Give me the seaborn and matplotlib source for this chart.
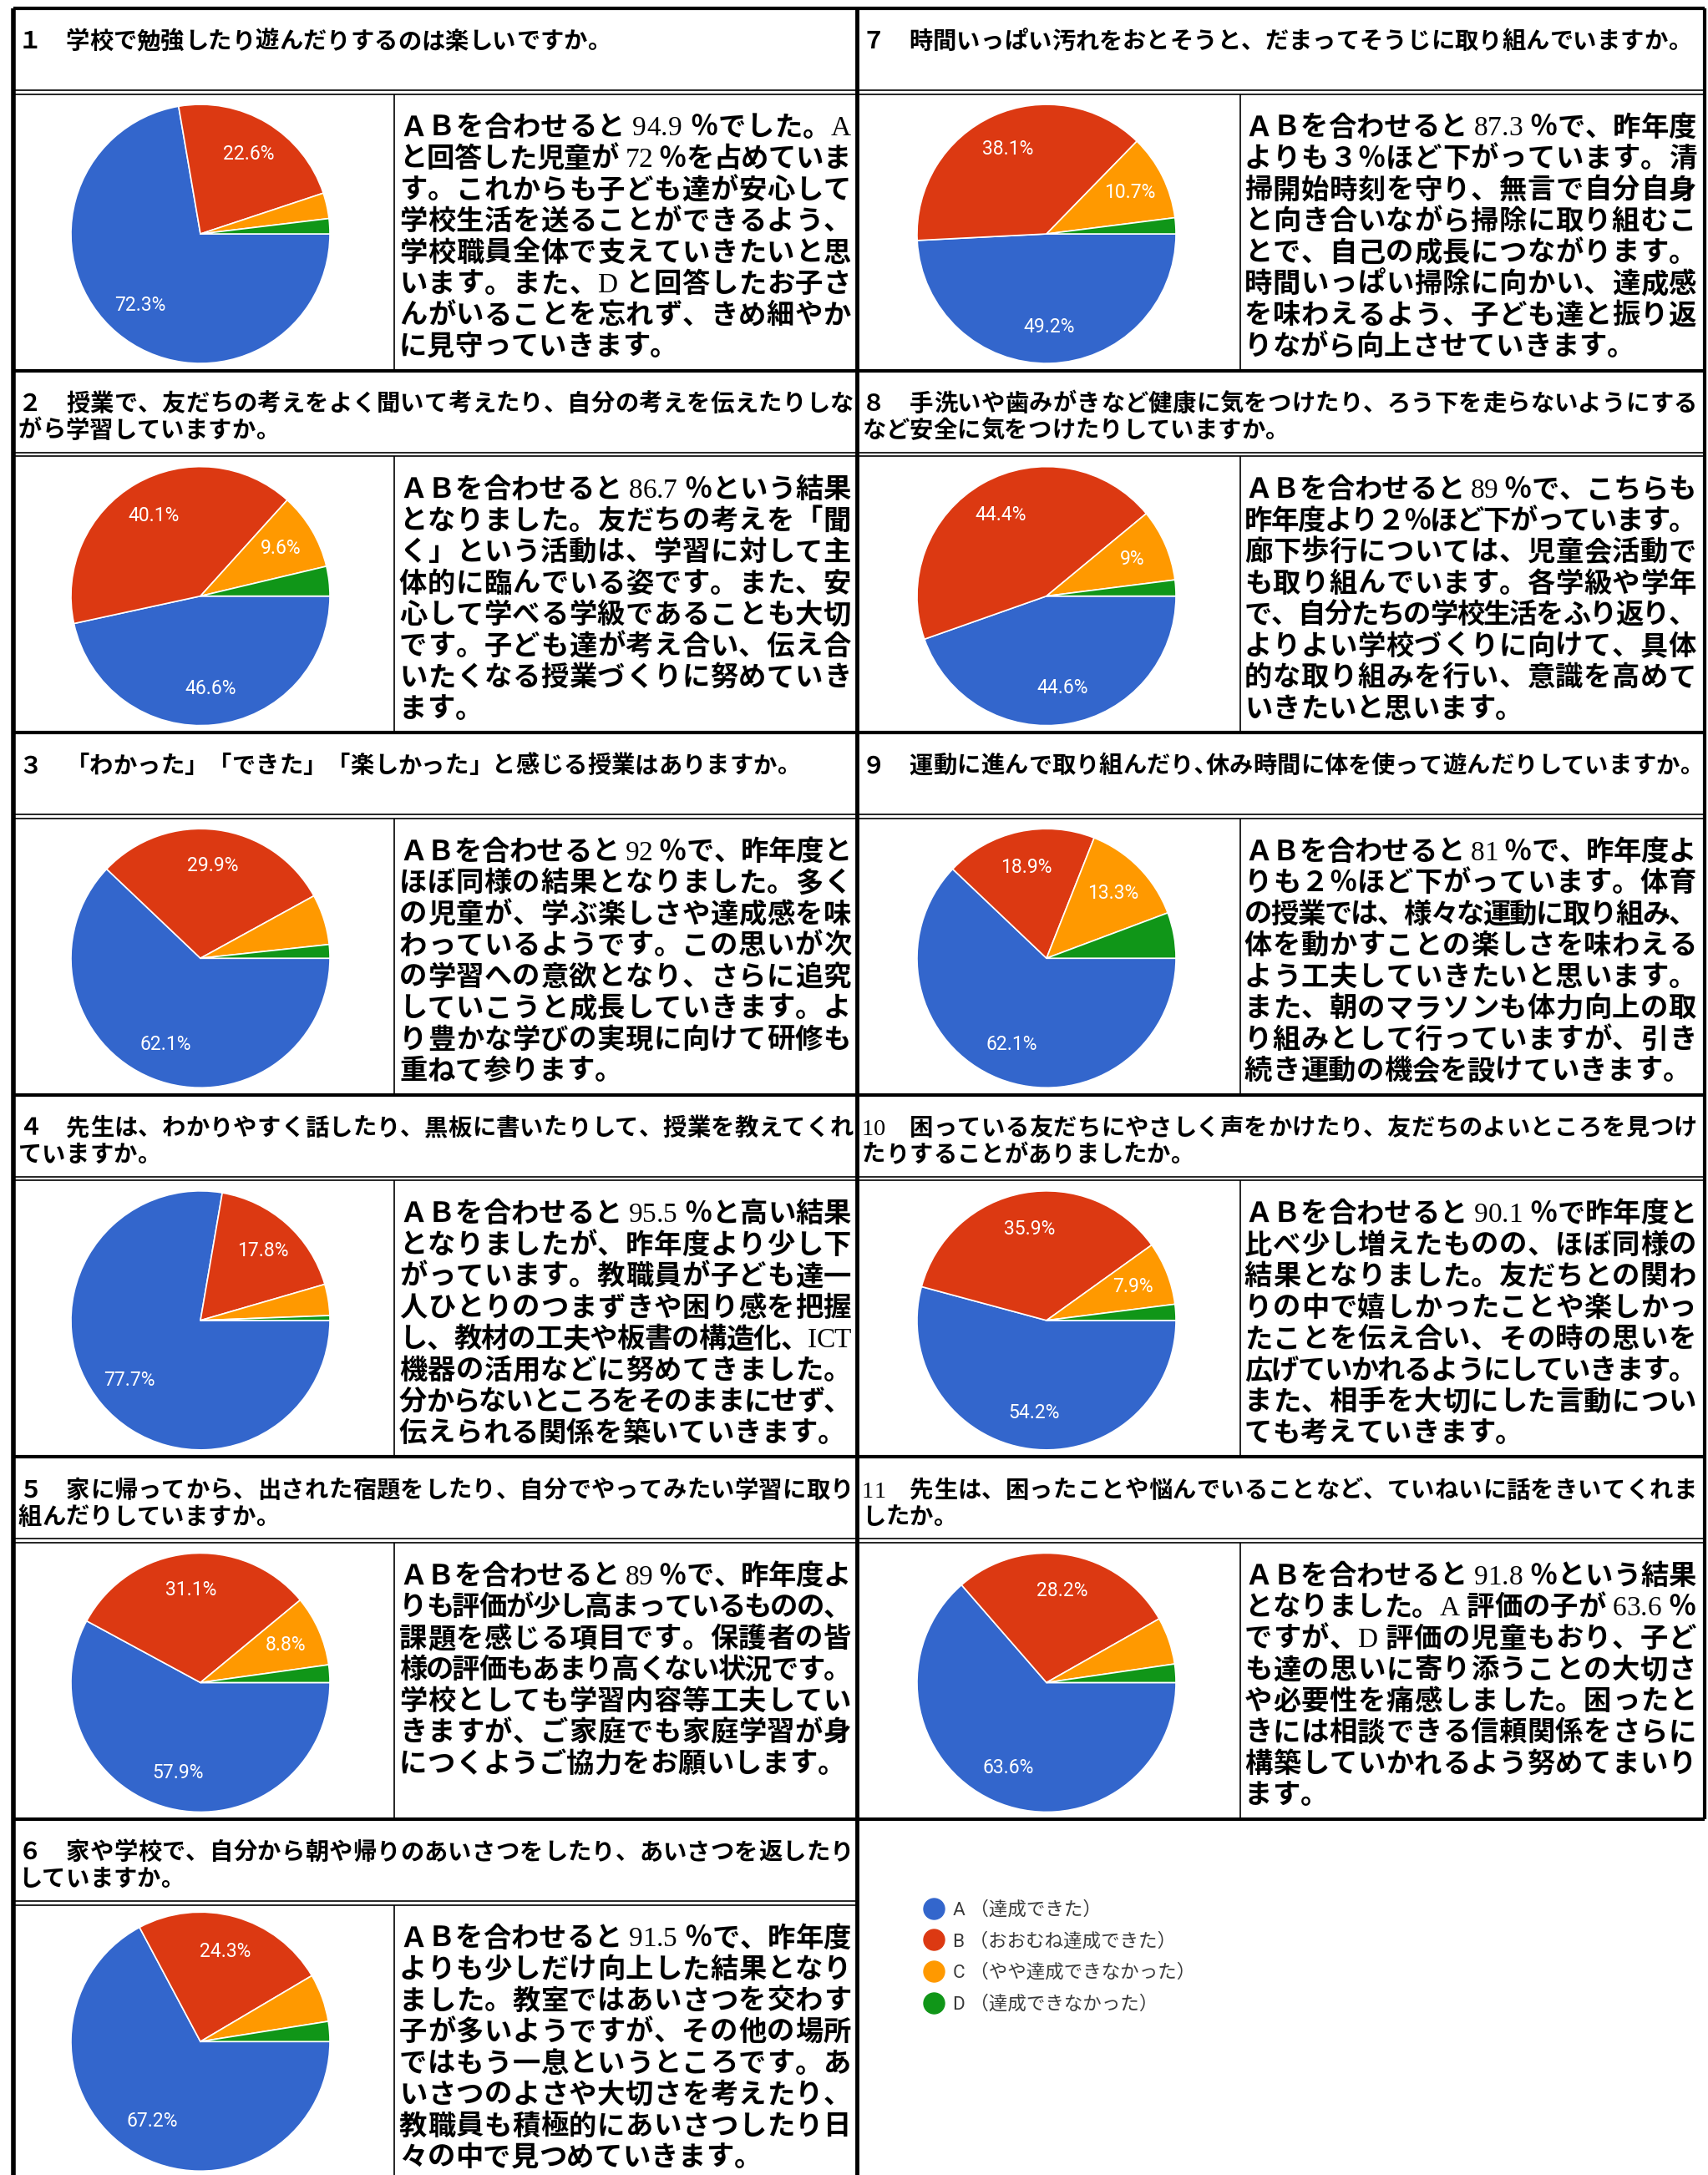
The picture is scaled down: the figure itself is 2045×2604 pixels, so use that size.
import matplotlib
matplotlib.use("Agg")
import matplotlib.pyplot as plt
import seaborn as sns
from matplotlib.lines import Line2D
from matplotlib.font_manager import FontProperties

sns.set_theme(style="white")
plt.rcParams["font.family"] = ["Noto Sans CJK JP", "DejaVu Sans"]

W, H, DPI = 2045, 2604, 100

# ---------------- data ----------------
categories = ["A", "B", "C", "D"]
legend_labels = ["A （達成できた）", "B （おおむね達成できた）",
                 "C （やや達成できなかった）", "D （達成できなかった）"]
colors = ["#3366cc", "#dc3912", "#ff9900", "#109618"]

pct_A = [72.3, 46.6, 62.1, 77.7, 57.9, 67.2, 49.2, 44.6, 62.1, 54.2, 63.6]
pct_B = [22.6, 40.1, 29.9, 17.8, 31.1, 24.3, 38.1, 44.4, 18.9, 35.9, 28.2]
pct_C = [3.2, 9.6, 6.3, 3.9, 8.8, 6.0, 10.7, 9.0, 13.3, 7.9, 5.9]
pct_D = [1.9, 3.7, 1.7, 0.6, 2.2, 2.5, 2.0, 2.0, 5.7, 2.0, 2.3]
label_min = 7.0  # slices below this show no percentage label

titles = [
    ["１　学校で勉強したり遊んだりするのは楽しいですか。"],
    ["２　授業で、友だちの考えをよく聞いて考えたり、自分の考えを伝えたりしな", "がら学習していますか。"],
    ["３　「わかった」「できた」「楽しかった」と感じる授業はありますか。"],
    ["４　先生は、わかりやすく話したり、黒板に書いたりして、授業を教えてくれ", "ていますか。"],
    ["５　家に帰ってから、出された宿題をしたり、自分でやってみたい学習に取り", "組んだりしていますか。"],
    ["６　家や学校で、自分から朝や帰りのあいさつをしたり、あいさつを返したり", "していますか。"],
    ["７　時間いっぱい汚れをおとそうと、だまってそうじに取り組んでいますか。"],
    ["８　手洗いや歯みがきなど健康に気をつけたり、ろう下を走らないようにする", "など安全に気をつけたりしていますか。"],
    ["９　運動に進んで取り組んだり､休み時間に体を使って遊んだりしていますか。"],
    ["10　困っている友だちにやさしく声をかけたり、友だちのよいところを見つけ", "たりすることがありましたか。"],
    ["11　先生は、困ったことや悩んでいることなど、ていねいに話をきいてくれま", "したか。"],
]

comments = [
    ["ＡＢを合わせると 94.9 ％でした。A", "と回答した児童が 72 ％を占めていま", "す。これからも子ども達が安心して",
     "学校生活を送ることができるよう、", "学校職員全体で支えていきたいと思", "います。また、D と回答したお子さ",
     "んがいることを忘れず、きめ細やか", "に見守っていきます。"],
    ["ＡＢを合わせると 86.7 ％という結果", "となりました。友だちの考えを「聞", "く」という活動は、学習に対して主",
     "体的に臨んでいる姿です。また、安", "心して学べる学級であることも大切", "です。子ども達が考え合い、伝え合",
     "いたくなる授業づくりに努めていき", "ます。"],
    ["ＡＢを合わせると 92 ％で、昨年度と", "ほぼ同様の結果となりました。多く", "の児童が、学ぶ楽しさや達成感を味",
     "わっているようです。この思いが次", "の学習への意欲となり、さらに追究", "していこうと成長していきます。よ",
     "り豊かな学びの実現に向けて研修も", "重ねて参ります。"],
    ["ＡＢを合わせると 95.5 ％と高い結果", "となりましたが、昨年度より少し下", "がっています。教職員が子ども達一",
     "人ひとりのつまずきや困り感を把握", "し、教材の工夫や板書の構造化、ICT", "機器の活用などに努めてきました。",
     "分からないところをそのままにせず、", "伝えられる関係を築いていきます。"],
    ["ＡＢを合わせると 89 ％で、昨年度よ", "りも評価が少し高まっているものの、", "課題を感じる項目です。保護者の皆",
     "様の評価もあまり高くない状況です。", "学校としても学習内容等工夫してい", "きますが、ご家庭でも家庭学習が身",
     "につくようご協力をお願いします。"],
    ["ＡＢを合わせると 91.5 ％で、昨年度", "よりも少しだけ向上した結果となり", "ました。教室ではあいさつを交わす",
     "子が多いようですが、その他の場所", "ではもう一息というところです。あ", "いさつのよさや大切さを考えたり、",
     "教職員も積極的にあいさつしたり日", "々の中で見つめていきます。"],
    ["ＡＢを合わせると 87.3 ％で、昨年度", "よりも３％ほど下がっています。清", "掃開始時刻を守り、無言で自分自身",
     "と向き合いながら掃除に取り組むこ", "とで、自己の成長につながります。", "時間いっぱい掃除に向かい、達成感",
     "を味わえるよう、子ども達と振り返", "りながら向上させていきます。"],
    ["ＡＢを合わせると 89 ％で、こちらも", "昨年度より２％ほど下がっています。", "廊下歩行については、児童会活動で",
     "も取り組んでいます。各学級や学年", "で、自分たちの学校生活をふり返り、", "よりよい学校づくりに向けて、具体",
     "的な取り組みを行い、意識を高めて", "いきたいと思います。"],
    ["ＡＢを合わせると 81 ％で、昨年度よ", "りも２％ほど下がっています。体育", "の授業では、様々な運動に取り組み、",
     "体を動かすことの楽しさを味わえる", "よう工夫していきたいと思います。", "また、朝のマラソンも体力向上の取",
     "り組みとして行っていますが、引き", "続き運動の機会を設けていきます。"],
    ["ＡＢを合わせると 90.1 ％で昨年度と", "比べ少し増えたものの、ほぼ同様の", "結果となりました。友だちとの関わ",
     "りの中で嬉しかったことや楽しかっ", "たことを伝え合い、その時の思いを", "広げていかれるようにしていきます。",
     "また、相手を大切にした言動につい", "ても考えていきます。"],
    ["ＡＢを合わせると 91.8 ％という結果", "となりました。A 評価の子が 63.6 ％", "ですが、D 評価の児童もおり、子ど",
     "も達の思いに寄り添うことの大切さ", "や必要性を痛感しました。困ったと", "きには相談できる信頼関係をさらに",
     "構築していかれるよう努めてまいり", "ます。"],
]

# ---------------- layout ----------------
LEFT, MID, RIGHT = 16, 1026, 2041
DIVX = [472, 1485]
PIE_CX = [240, 1253]
TEXT_X0 = [478, 1490]
TITLE_X0 = [22, 1032]
BODY_W = 541
TITLE_W = 1000
R = 155
TOP0, BLOCK = 10, 433.6
TITLE_H1, TITLE_H2 = 98, 102.5
BODY_PT, TITLE_PT = 24.0, 20.4

fig = plt.figure(figsize=(W / DPI, H / DPI), dpi=DPI)
fig.patch.set_facecolor("white")
bg = fig.add_axes([0, 0, 1, 1], zorder=0)
bg.set_xlim(0, W)
bg.set_ylim(H, 0)
bg.axis("off")
renderer = fig.canvas.get_renderer()

GOTH = dict(family="Noto Sans CJK JP", weight="bold")
SERIF = dict(family="Liberation Serif", weight="normal")
_cache = {}


def advance(ch, fam, size):
    key = (ch, fam["family"], size)
    if key not in _cache:
        prop = FontProperties(size=size, **fam)
        w2 = renderer.get_text_width_height_descent("||", prop, ismath=False)[0]
        w3 = renderer.get_text_width_height_descent("|" + ch + "|", prop, ismath=False)[0]
        _cache[key] = w3 - w2
    return _cache[key]


def draw_line(x0, center_y, text, size, width=None):
    fams = [SERIF if (" " <= c <= "~") else GOTH for c in text]
    advs = [advance(c, f, size) for c, f in zip(text, fams)]
    extra = 0.0
    if width is not None and len(text) > 1:
        extra = (width - sum(advs)) / (len(text) - 1)
    em = size * DPI / 72.0
    base = center_y + 0.36 * em
    x = x0
    for c, f, a in zip(text, fams, advs):
        if c != " ":
            bg.text(x, base, c, fontsize=size, color="black", ha="left", va="baseline", **f)
        x += a + extra


def block_top(r):
    return TOP0 + BLOCK * r


thick, thin = 3.0, 1.2
# outer and column borders
bg.plot([LEFT, LEFT], [TOP0, H], color="black", lw=thick + 1, solid_capstyle="butt")
bg.plot([MID, MID], [TOP0, H], color="black", lw=thick + 0.5, solid_capstyle="butt")
bg.plot([RIGHT, RIGHT], [TOP0, block_top(5)], color="black", lw=thick, solid_capstyle="butt")
for r in range(6):
    bg.plot([LEFT, RIGHT], [block_top(r), block_top(r)], color="black", lw=thick, solid_capstyle="butt")

for q in range(11):
    col = 0 if q < 6 else 1
    row = q if q < 6 else q - 6
    top = block_top(row)
    x_lo, x_hi = (LEFT, MID) if col == 0 else (MID, RIGHT)
    bottom = H if row == 5 else block_top(row + 1)
    # double rule under the question
    for dy in (TITLE_H1, TITLE_H2):
        bg.plot([x_lo, x_hi], [top + dy, top + dy], color="black", lw=thin, solid_capstyle="butt")
    # divider between pie and comment
    bg.plot([DIVX[col], DIVX[col]], [top + TITLE_H2, bottom], color="black", lw=thin, solid_capstyle="butt")

    # question text
    tl = titles[q]
    for i, line in enumerate(tl):
        draw_line(TITLE_X0[col], top + 38 + 32 * i, line, TITLE_PT,
                  TITLE_W if (len(tl) > 1 and i < len(tl) - 1) else None)

    # comment text
    cl = comments[q]
    ctop = top + TITLE_H2
    for i, line in enumerate(cl):
        draw_line(TEXT_X0[col], ctop + 38 + 37.5 * i, line, BODY_PT,
                  BODY_W if i < len(cl) - 1 else None)

    # pie
    cy = (ctop + bottom) / 2 + 2
    cx = PIE_CX[col]
    ax = fig.add_axes([(cx - R) / W, 1 - (cy + R) / H, 2 * R / W, 2 * R / H], zorder=2)
    vals = [pct_A[q], pct_B[q], pct_C[q], pct_D[q]]
    labs = iter([f"{v:g}%" if v >= label_min else "" for v in vals])
    ax.pie(vals, colors=colors, startangle=0, counterclock=False, radius=1,
           wedgeprops=dict(edgecolor="white", linewidth=1.2),
           autopct=lambda p: next(labs), pctdistance=0.72,
           textprops=dict(color="white", fontsize=16.5, family="Roboto"))
    ax.set_xlim(-1, 1)
    ax.set_ylim(-1, 1)
    ax.set_aspect("equal")
    ax.axis("off")

# legend
handles = [Line2D([], [], marker="o", linestyle="none", markersize=18,
                  markerfacecolor=c, markeredgecolor=c) for c in colors]
fig.legend(handles, legend_labels, loc="upper left",
           bbox_to_anchor=(1105 / W, 1 - 2276 / H), frameon=False,
           prop=FontProperties(family=["Roboto", "Noto Sans CJK JP"], size=16.2),
           labelcolor="#3a3a3a", handlelength=1.15, handletextpad=0.45,
           labelspacing=0.72, borderpad=0, borderaxespad=0)

fig.savefig("out.png", dpi=DPI, facecolor="white")
